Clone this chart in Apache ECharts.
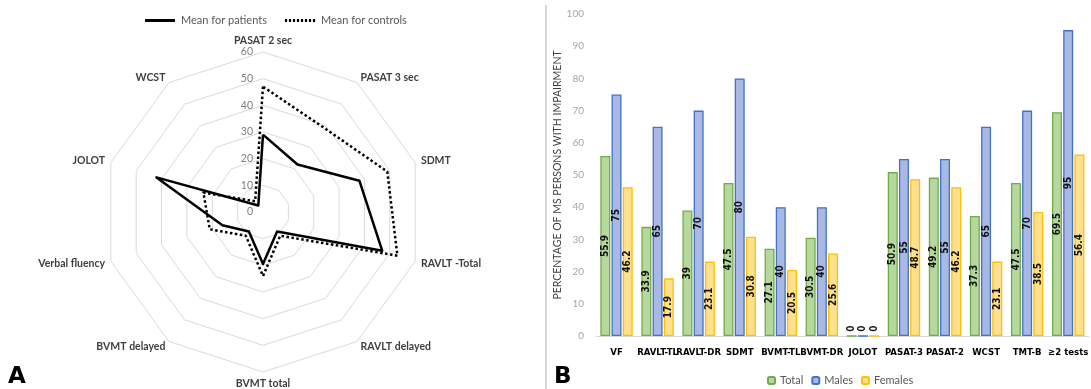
<!DOCTYPE html>
<html><head><meta charset="utf-8">
<script src="https://cdn.jsdelivr.net/npm/echarts@6/dist/echarts.min.js"></script>
<style>html,body{margin:0;padding:0;background:#fff}#c{width:1091px;height:389px}</style>
</head><body><div id="c"></div>
<script>
// Panel A: radar (indicators listed in ECharts order, counterclockwise from top)
const radarAxes = ['PASAT 2 sec','WCST','JOLOT','Verbal fluency','BVMT delayed','BVMT total','RAVLT delayed','RAVLT -Total','SDMT','PASAT 3 sec'];
const patients = [29, 3, 42, 16, 9, 19.5, 9, 47, 38, 22];
const controls = [47, 5, 23.5, 21, 11, 24, 11, 53, 49, 39];
const radarTicks = [0,10,20,30,40,50,60];

// Panel B: bars
const categories = ['VF','RAVLT-TL','RAVLT-DR','SDMT','BVMT-TL','BVMT-DR','JOLOT','PASAT-3','PASAT-2','WCST','TMT-B','≥2 tests'];
const total   = [55.9, 33.9, 39, 47.5, 27.1, 30.5, 0, 50.9, 49.2, 37.3, 47.5, 69.5];
const males   = [75, 65, 70, 80, 40, 40, 0, 55, 55, 65, 70, 95];
const females = [46.2, 17.9, 23.1, 30.8, 20.5, 25.6, 0, 48.7, 46.2, 23.1, 38.5, 56.4];

const FONT = 'Lato';
const NARROW = '"Liberation Sans Narrow", "DejaVu Sans Condensed", Lato';
const chart = echarts.init(document.getElementById('c'), null, {renderer:'canvas'});

function barData(arr){
  return arr.map(v => v === 0 ? {value:v, label:{position:'insideBottom', distance:5, align:'left', verticalAlign:'middle'}} : v);
}
function barSeries(name, arr, fill, border){
  return {
    type:'bar', name, data: barData(arr), xAxisIndex:0, yAxisIndex:0,
    barWidth:10, barGap:'12%',
    itemStyle:{color:fill, borderColor:border, borderWidth:1.3},
    label:{show:true, position:'inside', rotate:90, color:'#111', fontWeight:700, fontSize:10, fontFamily:'"DejaVu Sans Condensed", "Noto Sans"'},
    emphasis:{disabled:true}
  };
}

const solidIcon = 'path://M0,0h30v3h-30z';
let dots = '';
for (let i=0;i<8;i++){ dots += 'M'+(i*4)+',0h2.2v3h-2.2z'; }
const dottedIcon = 'path://' + dots + 'M30,0h0.01v3h-0.01z';

chart.setOption({
  animation:false,
  textStyle:{fontFamily:FONT},
  legend:[{
    top:10, left:140, itemWidth:32, itemHeight:3, itemGap:18,
    textStyle:{color:'#595959', fontSize:11, fontFamily:FONT},
    data:[{name:'Mean for patients', icon:solidIcon, itemStyle:{color:'#000'}},
          {name:'Mean for controls', icon:dottedIcon, itemStyle:{color:'#000'}}]
  },{
    top:370, left:762, itemWidth:7, itemHeight:7, itemGap:8,
    textStyle:{color:'#595959', fontSize:11, fontFamily:FONT},
    data:['Total','Males','Females']
  }],
  radar:{
    center:[263,212], radius:160, startAngle:90, shape:'polygon', splitNumber:6,
    indicator: radarAxes.map(n => ({name:n, min:0, max:60})),
    axisName:{color:'#404040', fontWeight:'bold', fontSize:10.5, fontFamily:FONT},
    nameGap:6,
    axisLine:{show:false},
    splitLine:{lineStyle:{color:'#d9d9d9', width:1}},
    splitArea:{show:false},
    axisTick:{show:false}, axisLabel:{show:false}
  },
  polar:{center:[263,212], radius:160},
  angleAxis:{show:false, startAngle:90, min:0, max:360},
  radiusAxis:{min:0, max:60, interval:10,
    axisLine:{show:false}, axisTick:{show:false}, splitLine:{show:false},
    axisLabel:{color:'#7f7f7f', fontSize:10.5, fontFamily:FONT, margin:10, inside:true,
      formatter: v => radarTicks.includes(v) ? String(v) : ''}},
  grid:{left:596, right:-5, top:14, bottom:53},
  xAxis:{type:'category', data:categories,
    axisLine:{lineStyle:{color:'#d9d9d9'}}, axisTick:{show:false},
    axisLabel:{color:'#000', fontWeight:'bold', fontSize:9.5, fontFamily:NARROW, margin:12, interval:0, hideOverlap:false}},
  yAxis:{type:'value', min:0, max:100, interval:10,
    name:'PERCENTAGE OF MS PERSONS WITH IMPAIRMENT', nameLocation:'middle', nameGap:23,
    nameTextStyle:{color:'#404040', fontSize:10.5, fontFamily:FONT},
    axisLine:{show:false}, axisTick:{show:false}, splitLine:{show:false},
    axisLabel:{color:'#a6a6a6', fontSize:10, fontFamily:FONT, margin:12}},
  series:[
    {type:'radar', symbol:'none', emphasis:{disabled:true},
      data:[
        {name:'Mean for patients', value:patients, lineStyle:{color:'#000', width:2.5, type:'solid'}, itemStyle:{color:'#000'}},
        {name:'Mean for controls', value:controls, lineStyle:{color:'#000', width:2.5, type:[2.5,2.5]}, itemStyle:{color:'#000'}}
      ]},
    barSeries('Total', total, '#b6d89f', '#70ad47'),
    barSeries('Males', males, '#a9b9e6', '#4472c4'),
    barSeries('Females', females, '#ffe08f', '#ffc000')
  ],
  graphic:[
    {type:'line', shape:{x1:546, y1:5, x2:546, y2:389}, style:{stroke:'#c8c8c8', lineWidth:1.5}},
    {type:'text', left:8, top:366, style:{text:'A', font:'900 23px "DejaVu Sans"', fill:'#000'}},
    {type:'text', left:554, top:366, style:{text:'B', font:'900 23px "DejaVu Sans"', fill:'#000'}}
  ]
});
</script></body></html>
